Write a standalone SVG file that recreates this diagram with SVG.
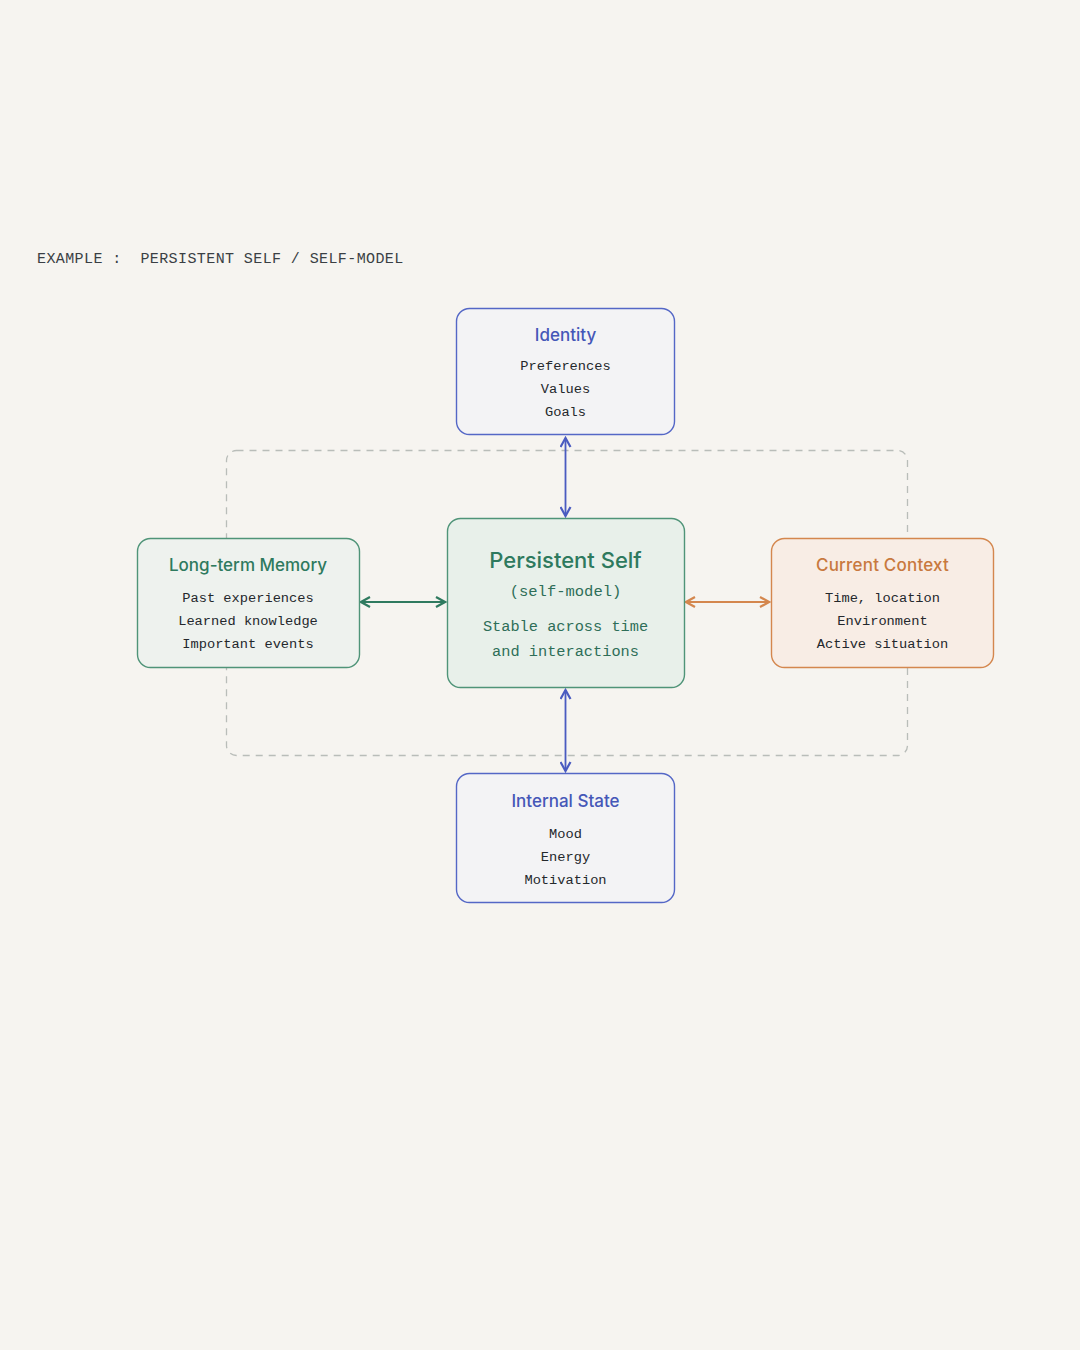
<svg xmlns="http://www.w3.org/2000/svg" width="1080" height="1350" viewBox="0 0 1080 1350">
<style>
.mono{font-family:"Liberation Mono","DejaVu Sans Mono",monospace;text-anchor:middle;}
.item{font-size:13.7px;fill:#24282c;}
.ttl{font-family:Inter,"Noto Sans","Liberation Sans",sans-serif;font-weight:500;text-anchor:middle;}
.blue{stroke:#5467c6;}
.green{stroke:#4f9478;}
.orange{stroke:#d4874e;}
.box{stroke-width:1.4;}
.conn{fill:none;stroke-width:1.8;}
</style>
<defs>
<marker id="ab" viewBox="0 0 12 12" refX="10" refY="6" markerWidth="12" markerHeight="12" markerUnits="userSpaceOnUse" orient="auto-start-reverse"><path d="M1,1 L10,6 L1,11" fill="none" stroke="#4a5bc0" stroke-width="2.2"/></marker>
<marker id="ag" viewBox="0 0 12 12" refX="10" refY="6" markerWidth="12" markerHeight="12" markerUnits="userSpaceOnUse" orient="auto-start-reverse"><path d="M1,1 L10,6 L1,11" fill="none" stroke="#2f7a5f" stroke-width="2.2"/></marker>
<marker id="ao" viewBox="0 0 12 12" refX="10" refY="6" markerWidth="12" markerHeight="12" markerUnits="userSpaceOnUse" orient="auto-start-reverse"><path d="M1,1 L10,6 L1,11" fill="none" stroke="#d4874e" stroke-width="2.2"/></marker>
</defs>
<rect width="1080" height="1350" fill="#f6f4f0"/>
<text x="37" y="263" font-family="Liberation Mono,DejaVu Sans Mono,monospace" font-size="15" letter-spacing="0.4" fill="#3a3f44" style="white-space:pre">EXAMPLE :  PERSISTENT SELF / SELF-MODEL</text>

<rect x="226.5" y="450.5" width="681" height="305" rx="10" fill="none" stroke="#b9bdb9" stroke-width="1.3" stroke-dasharray="7 6"/>

<g id="connectors">
<line class="conn" x1="565.5" y1="438" x2="565.5" y2="516" stroke="#4a5bc0" marker-start="url(#ab)" marker-end="url(#ab)"/>
<line class="conn" x1="565.5" y1="690" x2="565.5" y2="771" stroke="#4a5bc0" marker-start="url(#ab)" marker-end="url(#ab)"/>
<line class="conn" x1="361" y1="602" x2="445" y2="602" stroke="#2f7a5f" marker-start="url(#ag)" marker-end="url(#ag)"/>
<line class="conn" x1="686" y1="602" x2="769" y2="602" stroke="#d4874e" marker-start="url(#ao)" marker-end="url(#ao)"/>
</g>

<g id="identity">
<rect class="box blue" x="456.5" y="308.5" width="218" height="126" rx="13" fill="#f3f3f5"/>
<text class="ttl" x="565.5" y="341" font-size="17" fill="#4557b8">Identity</text>
<text class="mono item" x="565.5" y="370">Preferences</text>
<text class="mono item" x="565.5" y="393">Values</text>
<text class="mono item" x="565.5" y="416">Goals</text>
</g>

<g id="memory">
<rect class="box green" x="137.5" y="538.5" width="222" height="129" rx="13" fill="#eef2ee"/>
<text class="ttl" x="248" y="571" font-size="17" fill="#2e7a5e">Long-term Memory</text>
<text class="mono item" x="248" y="602">Past experiences</text>
<text class="mono item" x="248" y="625">Learned knowledge</text>
<text class="mono item" x="248" y="648">Important events</text>
</g>

<g id="self">
<rect class="box green" x="447.5" y="518.5" width="237" height="169" rx="13" fill="#e8f0ea"/>
<text class="ttl" x="565.5" y="568" font-size="22" fill="#2e7a5e">Persistent Self</text>
<text class="mono" x="565.5" y="596" font-size="15.5" fill="#2e6e58">(self-model)</text>
<text class="mono" x="565.5" y="631" font-size="15.3" fill="#2e6e58">Stable across time</text>
<text class="mono" x="565.5" y="656" font-size="15.3" fill="#2e6e58">and interactions</text>
</g>

<g id="context">
<rect class="box orange" x="771.5" y="538.5" width="222" height="129" rx="13" fill="#f8ede5"/>
<text class="ttl" x="882.5" y="571" font-size="17" letter-spacing="0.2" fill="#c8793e">Current Context</text>
<text class="mono item" x="882.5" y="602">Time, location</text>
<text class="mono item" x="882.5" y="625">Environment</text>
<text class="mono item" x="882.5" y="648">Active situation</text>
</g>

<g id="internal">
<rect class="box blue" x="456.5" y="773.5" width="218" height="129" rx="13" fill="#f3f3f5"/>
<text class="ttl" x="565.5" y="807" font-size="17" fill="#4557b8">Internal State</text>
<text class="mono item" x="565.5" y="838">Mood</text>
<text class="mono item" x="565.5" y="861">Energy</text>
<text class="mono item" x="565.5" y="884">Motivation</text>
</g>
</svg>
